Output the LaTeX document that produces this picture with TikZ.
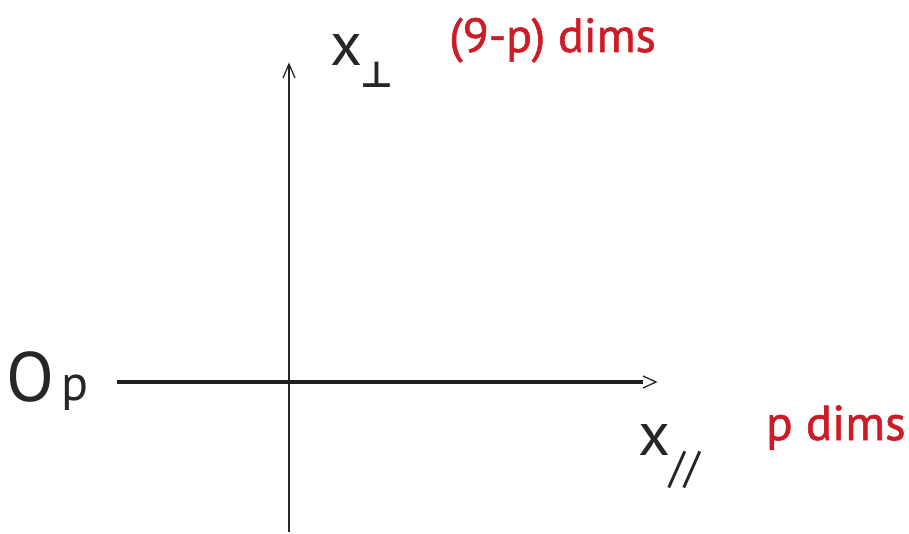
\documentclass[tikz,border=0pt]{standalone}
\usepackage{fontspec}
\setmainfont{PT Sans}
\newfontfamily\redfont[FakeBold=1.2]{PT Sans}
\newfontfamily\symfont{DejaVu Sans}
\usetikzlibrary{arrows.meta}
\definecolor{lblred}{RGB}{205,28,38}
\tikzset{
  axisthin/.style={line width=1.6pt, draw=black!85},
  axisthick/.style={line width=4pt, draw=black!88},
  chev/.style={line width=1.3pt, draw=black!85},
  redlbl/.style={text=lblred, font=\redfont\fontsize{48}{50}\selectfont, inner sep=0pt},
  blacklbl/.style={text=black!85, inner sep=0pt}
}
\begin{document}
\begin{tikzpicture}[x=1pt,y=-1pt]
\useasboundingbox (0,0) rectangle (909,534);
% vertical axis
\coordinate (vb) at (289,532);
\coordinate (vt) at (289,64);
\draw[axisthin] (vb) -- (vt);
\draw[chev] (283,78) -- (vt) -- (295,78);
% horizontal axis
\coordinate (hl) at (117,382);
\coordinate (hr) at (643,382);
\coordinate (htip) at (656,382);
\draw[axisthick] (hl) -- (hr);
\draw[chev] (643,376) -- (htip) -- (643,388);
% labels
\node[blacklbl, font=\fontsize{70}{72}\selectfont, anchor=base west] (op) at (6,401) {O};
\node[blacklbl, font=\fontsize{50}{52}\selectfont, anchor=base west] (opsub) at (61,400) {p};
\node[blacklbl, font=\fontsize{62}{64}\selectfont, anchor=base west] (xperp) at (330,66) {x};
\node[blacklbl, anchor=base west] (perp) at (360,88) {\fontsize{36}{38}\selectfont\symfont\bfseries ⊥};
\node[redlbl, anchor=base west] (ninep) at (449,52) {(9-p) dims};
\node[blacklbl, font=\fontsize{62}{64}\selectfont, anchor=base west] (xpar) at (638,455) {x};
\node[blacklbl, font=\fontsize{44}{46}\selectfont, anchor=base west] (parsub) at (669,482) {//};
\node[redlbl, font=\redfont\fontsize{49}{51}\selectfont, anchor=base west] (pdims) at (766,440) {p dims};
\end{tikzpicture}
\end{document}
